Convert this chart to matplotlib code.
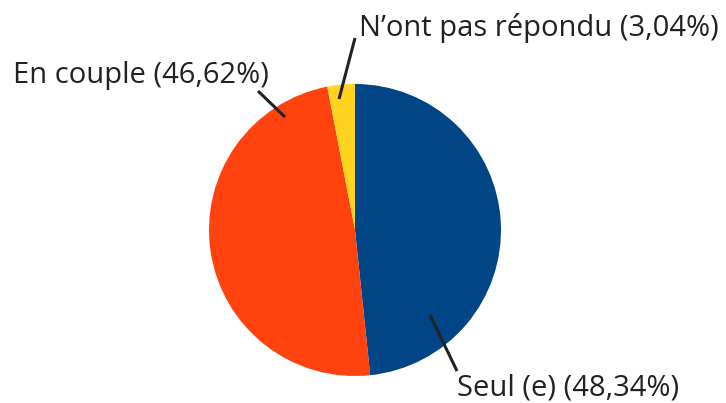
import matplotlib
matplotlib.use("Agg")
import matplotlib.pyplot as plt

labels = ["Seul (e)", "En couple", "N’ont pas répondu"]
label_pct = [48.34, 46.62, 3.04]          # percentages printed in the labels
shares = [48.34, 48.62, 3.04]             # wedge sizes
colors = ["#004586", "#ff420e", "#ffd320"]

plt.rcParams['font.family'] = ['Open Sans', 'DejaVu Sans']

W, H = 726, 403
fig = plt.figure(figsize=(W / 100, H / 100), dpi=100)
cx, cy, r = 355, 230, 146
ax = fig.add_axes([(cx - r) / W, (H - cy - r) / H, 2 * r / W, 2 * r / H])
ax.pie(shares, colors=colors, startangle=90, counterclock=False, radius=1,
       wedgeprops=dict(linewidth=0))
ax.set_xlim(-1, 1)
ax.set_ylim(-1, 1)
ax.set_aspect('auto')
ax.axis('off')

def d(px, py):
    return ((px - cx) / r, (cy - py) / r)

def fmt(v):
    return f"{v:.2f}".replace(".", ",") + "%"

# (leader start px, leader end px, text anchor px, ha)
layout = [
    ((430, 315), (457, 371), (457, 396), 'left'),
    ((285, 117), (258, 91), (269, 83), 'right'),
    ((339, 99), (355, 38), (359, 36), 'left'),
]
tc = "#222222"
for lab, v, (s, e, t, ha) in zip(labels, label_pct, layout):
    x0, y0 = d(*s)
    x1, y1 = d(*e)
    ax.plot([x0, x1], [y0, y1], color=tc, lw=2.2, solid_capstyle='butt', clip_on=False)
    tx, ty = d(*t)
    ax.text(tx, ty, f"{lab} ({fmt(v)})", ha=ha, va='baseline', fontsize=21,
            color=tc, clip_on=False)

fig.savefig("out.png", dpi=100)
